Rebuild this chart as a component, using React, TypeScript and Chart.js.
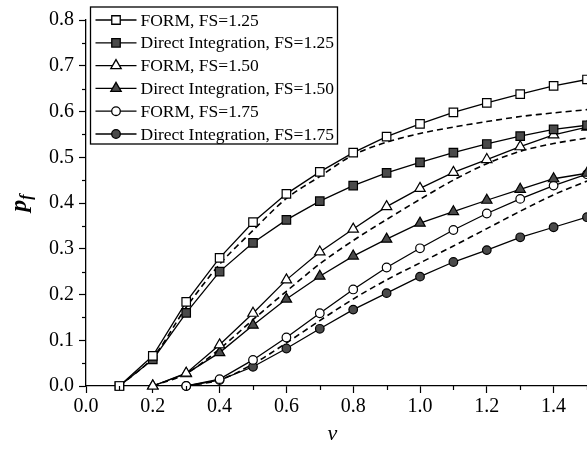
import React, { useEffect, useRef } from 'react';
import { Chart, registerables } from 'chart.js';

Chart.register(...registerables);

// ---- data ----
const V_FS125 = [0.1, 0.2, 0.3, 0.4, 0.5, 0.6, 0.7, 0.8, 0.9, 1.0, 1.1, 1.2, 1.3, 1.4, 1.5];
const V_FS150 = [0.2, 0.3, 0.4, 0.5, 0.6, 0.7, 0.8, 0.9, 1.0, 1.1, 1.2, 1.3, 1.4, 1.5];
const V_FS175 = [0.3, 0.4, 0.5, 0.6, 0.7, 0.8, 0.9, 1.0, 1.1, 1.2, 1.3, 1.4, 1.5];

const formFS125 = [0, 0.066, 0.184, 0.280, 0.358, 0.420, 0.468, 0.510, 0.545, 0.573, 0.598, 0.619, 0.638, 0.656, 0.670];
const directFS125 = [0, 0.058, 0.160, 0.250, 0.313, 0.363, 0.404, 0.438, 0.466, 0.489, 0.510, 0.529, 0.546, 0.561, 0.570];
const dashedFS125 = [0, 0.062, 0.172, 0.266, 0.340, 0.410, 0.458, 0.505, 0.533, 0.552, 0.566, 0.578, 0.589, 0.597, 0.604];

const formFS150 = [0, 0.028, 0.090, 0.159, 0.232, 0.293, 0.343, 0.392, 0.432, 0.467, 0.495, 0.523, 0.549, 0.566];
const directFS150 = [0, 0.027, 0.073, 0.133, 0.190, 0.240, 0.284, 0.321, 0.356, 0.381, 0.406, 0.430, 0.453, 0.465];
const dashedFS150 = [0, 0.027, 0.081, 0.145, 0.207, 0.267, 0.318, 0.364, 0.408, 0.450, 0.486, 0.513, 0.530, 0.542];

const formFS175 = [0, 0.015, 0.057, 0.106, 0.159, 0.211, 0.259, 0.301, 0.341, 0.377, 0.409, 0.438, 0.463];
const directFS175 = [0, 0.013, 0.042, 0.082, 0.125, 0.167, 0.203, 0.239, 0.271, 0.297, 0.325, 0.347, 0.369];
const dashedFS175 = [0, 0.013, 0.048, 0.094, 0.143, 0.190, 0.232, 0.269, 0.306, 0.344, 0.382, 0.418, 0.448];

const LEGEND_LABELS = [
  'FORM, FS=1.25',
  'Direct Integration, FS=1.25',
  'FORM, FS=1.50',
  'Direct Integration, FS=1.50',
  'FORM, FS=1.75',
  'Direct Integration, FS=1.75',
];

const X_TICKS = [0, 0.2, 0.4, 0.6, 0.8, 1.0, 1.2, 1.4];
const Y_TICKS = [0, 0.1, 0.2, 0.3, 0.4, 0.5, 0.6, 0.7, 0.8];
const X_MINOR = [0.1, 0.3, 0.5, 0.7, 0.9, 1.1, 1.3, 1.5];
const Y_MINOR = [0.05, 0.15, 0.25, 0.35, 0.45, 0.55, 0.65, 0.75];

const X_TITLE = 'ν';
const Y_TITLE_MAIN = 'p';
const Y_TITLE_SUB = 'f';

const SERIF = '"Liberation Serif", "DejaVu Serif", serif';
const FILL_DARK = '#4a4a4a';

const toXY = (xs: number[], ys: number[]) => ys.map((y, i) => ({ x: xs[i], y }));

function drawMarker(ctx: CanvasRenderingContext2D, style: string, x: number, y: number, r: number, fill: string) {
  ctx.beginPath();
  if (style === 'rect') {
    const s = Math.SQRT1_2 * r;
    ctx.rect(x - s, y - s, 2 * s, 2 * s);
  } else if (style === 'triangle') {
    let rad = 0;
    const step = (2 * Math.PI) / 3;
    ctx.moveTo(x + Math.sin(rad) * r, y - Math.cos(rad) * r);
    rad += step;
    ctx.lineTo(x + Math.sin(rad) * r, y - Math.cos(rad) * r);
    rad += step;
    ctx.lineTo(x + Math.sin(rad) * r, y - Math.cos(rad) * r);
    ctx.closePath();
  } else {
    ctx.arc(x, y, r, 0, Math.PI * 2);
  }
  ctx.fillStyle = fill;
  ctx.fill();
  ctx.stroke();
}

const overlayPlugin = {
  id: 'overlay',
  afterDraw(chart: any) {
    const ctx: CanvasRenderingContext2D = chart.ctx;
    const xs = chart.scales.x;
    const ys = chart.scales.y;
    const ca = chart.chartArea;
    ctx.save();
    ctx.strokeStyle = '#000';
    ctx.lineWidth = 1.2;
    // minor ticks
    for (const v of X_MINOR) {
      const px = Math.round(xs.getPixelForValue(v)) + 0.5;
      ctx.beginPath();
      ctx.moveTo(px, ca.bottom);
      ctx.lineTo(px, ca.bottom + 4);
      ctx.stroke();
    }
    for (const v of Y_MINOR) {
      const py = Math.round(ys.getPixelForValue(v)) + 0.5;
      ctx.beginPath();
      ctx.moveTo(ca.left, py);
      ctx.lineTo(ca.left - 4, py);
      ctx.stroke();
    }

    // legend box
    const bx = ca.left + 4.5;
    const by = 7;
    const bw = 247;
    const bh = 137;
    ctx.fillStyle = '#fff';
    ctx.fillRect(bx, by, bw, bh);
    ctx.lineWidth = 1.3;
    ctx.strokeRect(bx, by, bw, bh);
    const rowH = 22.8;
    ctx.font = '17.5px ' + SERIF;
    ctx.textBaseline = 'middle';
    ctx.textAlign = 'left';
    LEGEND_LABELS.forEach((label, i) => {
      const ds = chart.data.datasets[i];
      const cy = by + 13 + i * rowH;
      ctx.strokeStyle = '#000';
      ctx.lineWidth = 1.3;
      ctx.beginPath();
      ctx.moveTo(bx + 5, cy);
      ctx.lineTo(bx + 46, cy);
      ctx.stroke();
      drawMarker(ctx, ds.pointStyle, bx + 25.5, cy, ds.pointRadius, ds.pointBackgroundColor);
      ctx.fillStyle = '#000';
      ctx.fillText(label, bx + 50, cy + 1);
    });

    // x title
    ctx.fillStyle = '#000';
    ctx.font = 'italic 22px ' + SERIF;
    ctx.textAlign = 'center';
    ctx.textBaseline = 'middle';
    ctx.fillText(X_TITLE, (ca.left + ca.right) / 2 - 4, 434);

    // y title (rotated)
    ctx.save();
    ctx.translate(26, (ca.top + ca.bottom) / 2);
    ctx.rotate(-Math.PI / 2);
    ctx.textAlign = 'left';
    ctx.textBaseline = 'alphabetic';
    ctx.font = 'bold italic 24px ' + SERIF;
    const wMain = ctx.measureText(Y_TITLE_MAIN).width;
    ctx.font = 'bold italic 16px ' + SERIF;
    const wSub = ctx.measureText(Y_TITLE_SUB).width;
    const start = -(wMain + wSub) / 2;
    ctx.font = 'bold italic 24px ' + SERIF;
    ctx.fillText(Y_TITLE_MAIN, start, 0);
    ctx.font = 'bold italic 16px ' + SERIF;
    ctx.fillText(Y_TITLE_SUB, start + wMain, 5);
    ctx.restore();

    ctx.restore();
  },
};

function lineDs(label: string, data: any[], style: string, fill: string, r: number) {
  return {
    label,
    data,
    borderColor: '#000',
    borderWidth: 1.3,
    pointStyle: style,
    pointRadius: r,
    pointBackgroundColor: fill,
    pointBorderColor: '#000',
    pointBorderWidth: 1.2,
    fill: false,
    tension: 0,
    clip: false as any,
  };
}

function dashDs(data: any[]) {
  return {
    label: '',
    data,
    borderColor: '#000',
    borderWidth: 1.6,
    borderDash: [6, 4],
    pointRadius: 0,
    fill: false,
    tension: 0.3,
    clip: false as any,
  };
}

export default function App() {
  const ref = useRef<HTMLCanvasElement | null>(null);
  useEffect(() => {
    if (!ref.current) return;
    const chart = new Chart(ref.current, {
      type: 'line',
      data: {
        datasets: [
          lineDs(LEGEND_LABELS[0], toXY(V_FS125, formFS125), 'rect', '#fff', 6),
          lineDs(LEGEND_LABELS[1], toXY(V_FS125, directFS125), 'rect', FILL_DARK, 6),
          lineDs(LEGEND_LABELS[2], toXY(V_FS150, formFS150), 'triangle', '#fff', 6),
          lineDs(LEGEND_LABELS[3], toXY(V_FS150, directFS150), 'triangle', FILL_DARK, 6),
          lineDs(LEGEND_LABELS[4], toXY(V_FS175, formFS175), 'circle', '#fff', 4.3),
          lineDs(LEGEND_LABELS[5], toXY(V_FS175, directFS175), 'circle', FILL_DARK, 4.3),
          dashDs(toXY(V_FS125, dashedFS125)),
          dashDs(toXY(V_FS150, dashedFS150)),
          dashDs(toXY(V_FS175, dashedFS175)),
        ] as any,
      },
      options: {
        animation: false,
        responsive: false,
        devicePixelRatio: 1,
        layout: { autoPadding: false, padding: { top: 20, right: 0, left: 0, bottom: 0 } },
        plugins: { legend: { display: false }, tooltip: { enabled: false } },
        scales: {
          x: {
            type: 'linear',
            min: 0,
            max: 1.5,
            afterFit: (s: any) => { s.height = 63; s.paddingLeft = 0; s.paddingRight = 0; },
            afterBuildTicks: (s: any) => {
              s.ticks = X_TICKS.map((value) => ({ value }));
            },
            ticks: {
              autoSkip: false,
              maxRotation: 0,
              padding: 2,
              color: '#000',
              font: { family: SERIF, size: 20 },
              callback: (v: any) => Number(v).toFixed(1),
            },
            grid: { drawOnChartArea: false, drawTicks: true, tickLength: 7, tickColor: '#000', tickWidth: 1.2 },
            border: { display: true, color: '#000', width: 1.3 },
          },
          y: {
            type: 'linear',
            min: 0,
            max: 0.8,
            afterFit: (s: any) => { s.width = 86; s.paddingTop = 0; s.paddingBottom = 0; },
            afterBuildTicks: (s: any) => {
              s.ticks = Y_TICKS.map((value) => ({ value }));
            },
            ticks: {
              autoSkip: false,
              padding: 5,
              color: '#000',
              font: { family: SERIF, size: 20 },
              callback: (v: any) => Number(v).toFixed(1),
            },
            grid: { drawOnChartArea: false, drawTicks: true, tickLength: 7, tickColor: '#000', tickWidth: 1.2 },
            border: { display: true, color: '#000', width: 1.3 },
          },
        },
      } as any,
      plugins: [overlayPlugin],
    });
    return () => chart.destroy();
  }, []);
  return (
    <div style={{ position: 'absolute', left: 0, top: 0, width: 587, height: 449, background: '#fff' }}>
      <canvas ref={ref} width={587} height={449} style={{ display: 'block' }} />
    </div>
  );
}
